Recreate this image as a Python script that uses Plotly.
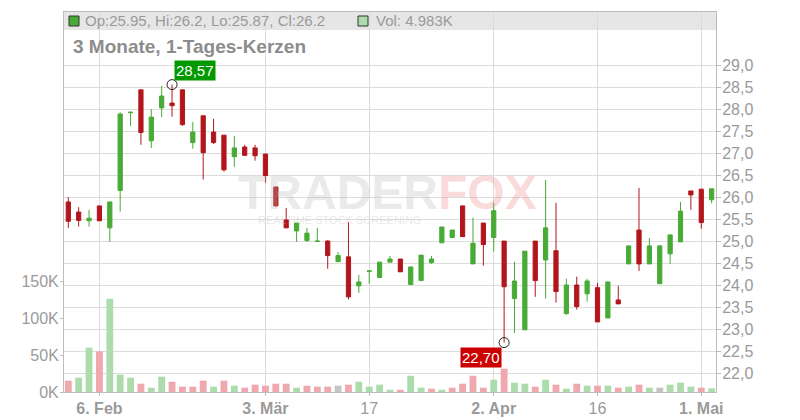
import plotly.graph_objects as go

# ---------------- data ----------------
DATES = [
    "2025-02-03", "2025-02-04", "2025-02-05", "2025-02-06", "2025-02-07",
    "2025-02-10", "2025-02-11", "2025-02-12", "2025-02-13", "2025-02-14",
    "2025-02-18", "2025-02-19", "2025-02-20", "2025-02-21", "2025-02-24",
    "2025-02-25", "2025-02-26", "2025-02-27", "2025-02-28",
    "2025-03-03", "2025-03-04", "2025-03-05", "2025-03-06", "2025-03-07",
    "2025-03-10", "2025-03-11", "2025-03-12", "2025-03-13", "2025-03-14",
    "2025-03-17", "2025-03-18", "2025-03-19", "2025-03-20", "2025-03-21",
    "2025-03-24", "2025-03-25", "2025-03-26", "2025-03-27", "2025-03-28",
    "2025-03-31",
    "2025-04-01", "2025-04-02", "2025-04-03", "2025-04-04", "2025-04-07",
    "2025-04-08", "2025-04-09", "2025-04-10", "2025-04-11", "2025-04-14",
    "2025-04-15", "2025-04-16", "2025-04-17", "2025-04-21", "2025-04-22",
    "2025-04-23", "2025-04-24", "2025-04-25", "2025-04-28", "2025-04-29",
    "2025-04-30",
    "2025-05-01", "2025-05-02",
]

OPEN = [25.90, 25.67, 25.47, 25.81, 25.31, 26.16, 27.93, 28.45, 27.29, 28.04,
        28.15, 28.45, 27.25, 27.86, 27.49, 27.42, 26.93, 27.15, 27.13, 26.99,
        26.24, 25.49, 25.24, 25.02, 25.00, 25.01, 24.54, 24.65, 23.99, 24.32,
        24.18, 24.53, 24.60, 24.02, 24.11, 24.52, 24.97, 25.09, 25.81, 24.49,
        25.42, 25.09, 25.01, 23.70, 22.99, 25.01, 24.58, 24.79, 23.36, 24.01,
        23.81, 23.95, 23.26, 23.67, 24.49, 25.26, 24.49, 24.04, 24.72, 24.99,
        26.15, 26.19, 25.95]
HIGH = [26.01, 25.78, 25.72, 25.81, 25.90, 27.94, 27.95, 28.45, 28.01, 28.54,
        28.57, 28.46, 27.72, 27.86, 27.79, 27.42, 27.40, 27.20, 27.20, 26.99,
        26.24, 25.76, 25.42, 25.31, 25.31, 25.03, 24.76, 25.44, 24.24, 24.33,
        24.53, 24.67, 24.60, 24.42, 24.69, 24.67, 25.33, 25.26, 25.81, 25.54,
        25.42, 25.88, 25.01, 24.54, 24.78, 25.01, 26.40, 25.88, 24.15, 24.20,
        24.15, 24.06, 24.08, 23.99, 24.90, 26.22, 25.08, 24.92, 25.15, 25.90,
        26.15, 26.20, 26.20]
LOW = [25.31, 25.34, 25.34, 25.47, 24.99, 25.68, 27.63, 27.20, 27.13, 27.83,
       27.84, 27.63, 27.11, 26.41, 27.22, 26.59, 26.70, 26.95, 26.84, 26.34,
       25.79, 25.31, 24.99, 24.99, 25.00, 24.38, 24.54, 23.68, 23.83, 24.04,
       24.18, 24.53, 24.31, 24.02, 24.11, 24.49, 24.97, 25.09, 25.11, 24.49,
       24.45, 24.77, 22.70, 22.92, 22.99, 23.74, 23.70, 23.61, 23.33, 23.45,
       23.63, 23.17, 23.26, 23.58, 24.49, 24.33, 24.49, 24.04, 24.49, 24.99,
       25.72, 25.29, 25.87]
CLOSE = [25.46, 25.48, 25.53, 25.47, 25.90, 27.90, 27.94, 27.48, 27.83, 28.31,
         28.09, 27.66, 27.49, 27.02, 27.25, 26.63, 27.13, 26.96, 26.95, 26.50,
         25.81, 25.31, 25.42, 25.19, 25.01, 24.68, 24.68, 23.74, 24.08, 24.33,
         24.53, 24.60, 24.31, 24.42, 24.69, 24.60, 25.33, 25.26, 25.11, 24.96,
         24.93, 25.70, 23.97, 24.10, 24.78, 24.11, 25.31, 23.86, 24.01, 23.52,
         24.10, 23.17, 24.08, 23.58, 24.90, 24.49, 24.90, 24.90, 25.15, 25.69,
         26.06, 25.43, 26.20]
VOLUME = [15300, 19300, 59900, 54900, 126000, 23400, 19300, 11200, 5800, 20700,
          13900, 7200, 7200, 15300, 7200, 15300, 8500, 5800, 9900, 8500,
          11200, 11200, 5800, 8500, 7200, 7200, 8500, 9900, 13900, 7200,
          9900, 3100, 3000, 22000, 5800, 4500, 3100, 5800, 11200, 22000,
          5800, 16600, 31500, 12600, 11200, 7200, 16600, 9900, 4500, 11200,
          8500, 8500, 8500, 5800, 7200, 9900, 5800, 5800, 9900, 12600,
          7200, 5800, 4983]
PREV_CLOSE = 25.60

TICK_DATES = ["2025-02-06", "2025-03-03", "2025-03-17", "2025-04-02", "2025-04-16", "2025-05-01"]
TICK_LABELS = ["<b>6. Feb</b>", "<b>3. Mär</b>", "17", "<b>2. Apr</b>", "16", "<b>1. Mai</b>"]
PRICE_TICKS = [22.0, 22.5, 23.0, 23.5, 24.0, 24.5, 25.0, 25.5, 26.0, 26.5, 27.0, 27.5, 28.0, 28.5, 29.0]
VOL_TICKS = [0, 50000, 100000, 150000]
VOL_TICK_LABELS = ["0K", "50K", "100K", "150K"]

TITLE = "3 Monate, 1-Tages-Kerzen"

# ---------------- style ----------------
GREEN = "#47ab35"
RED = "#b2161c"
VOL_UP = "#acdcab"
VOL_DOWN = "#eea8ae"
VOL_FLAT = "#c4c4c4"
GRID = "#dcdcdc"
AXIS = "#bcbcbc"
TXT = "#9a9a9a"
FONT = "Liberation Sans, Arial, sans-serif"

W, H = 800, 420
OFF = 8                      # default page body margin
PL, PR, PT, PB = 64, 716, 12, 392   # plot area in page pixels
ML, MT = PL - OFF, PT - OFF
MR, MB = W - (PR - OFF), H - (PB - OFF)


def px(x):
    return (x - PL) / (PR - PL)


def py(y):
    return (PB - y) / (PB - PT)


vol_colors = []
prev = PREV_CLOSE
for c in CLOSE:
    vol_colors.append(VOL_UP if c > prev else (VOL_DOWN if c < prev else VOL_FLAT))
    prev = c

ih = max(range(len(HIGH)), key=lambda i: HIGH[i])
il = min(range(len(LOW)), key=lambda i: LOW[i])

fig = go.Figure()

fig.add_trace(go.Bar(
    x=DATES, y=VOLUME, marker=dict(color=vol_colors, line=dict(width=0)),
    width=0.66, yaxis="y", hoverinfo="skip",
))

fig.add_trace(go.Candlestick(
    x=DATES, open=OPEN, high=HIGH, low=LOW, close=CLOSE, yaxis="y2",
    increasing=dict(fillcolor=GREEN, line=dict(color=GREEN, width=1)),
    decreasing=dict(fillcolor=RED, line=dict(color=RED, width=1)),
    whiskerwidth=0,
))

fig.add_trace(go.Scatter(
    x=[DATES[ih], DATES[il]], y=[HIGH[ih], LOW[il]], yaxis="y2", mode="markers",
    marker=dict(symbol="circle-open", size=10, color="#222222", line=dict(width=1)),
    hoverinfo="skip",
))

shapes = [
    dict(type="rect", xref="paper", yref="paper", x0=0, x1=1, y0=py(30), y1=1,
         fillcolor="#e6e6e6", line=dict(width=0), layer="below"),
    dict(type="rect", xref="paper", yref="paper", x0=px(69), x1=px(79), y0=py(26), y1=py(16),
         fillcolor=GREEN, line=dict(color="#333333", width=1), layer="above"),
    dict(type="rect", xref="paper", yref="paper", x0=px(358), x1=px(368), y0=py(26), y1=py(16),
         fillcolor=VOL_UP, line=dict(color="#333333", width=1), layer="above"),
]

annotations = [
    dict(xref="paper", yref="paper", x=px(83), y=py(21), xanchor="left", yanchor="middle",
         showarrow=False,
         text=f"Op:{OPEN[-1]:g}, Hi:{HIGH[-1]:g}, Lo:{LOW[-1]:g}, Cl:{CLOSE[-1]:g}",
         font=dict(family=FONT, size=15, color=TXT)),
    dict(xref="paper", yref="paper", x=px(374), y=py(21), xanchor="left", yanchor="middle",
         showarrow=False, text=f"Vol: {VOLUME[-1] / 1000:.3f}K",
         font=dict(family=FONT, size=15, color=TXT)),
    dict(xref="paper", yref="paper", x=px(71), y=py(47), xanchor="left", yanchor="middle",
         showarrow=False, text=f"<b>{TITLE}</b>",
         font=dict(family=FONT, size=19, color="#8c8c8c")),
    # watermark
    dict(xref="paper", yref="paper", x=px(387), y=py(192), xanchor="center", yanchor="middle",
         showarrow=False,
         text="<b><span style='color:rgba(190,190,190,0.32)'>TRADER</span>"
              "<span style='color:rgba(240,130,130,0.30)'>FOX</span></b>",
         font=dict(family=FONT, size=48)),
    dict(xref="paper", yref="paper", x=px(339), y=py(220), xanchor="center", yanchor="middle",
         showarrow=False, text="REALTIME STOCK SCREENING",
         font=dict(family=FONT, size=11, color="rgba(190,190,190,0.35)")),
    # high / low labels
    dict(xref="x", yref="y2", x=DATES[ih], y=HIGH[ih], xanchor="left", yanchor="bottom",
         xshift=2, yshift=4, showarrow=False, bgcolor="#009900", borderpad=1,
         text=f"{HIGH[ih]:.2f}".replace(".", ","),
         font=dict(family=FONT, size=15, color="#ffffff")),
    dict(xref="x", yref="y2", x=DATES[il], y=LOW[il], xanchor="right", yanchor="top",
         xshift=-2, yshift=-4, showarrow=False, bgcolor="#cc0000", borderpad=1,
         text=f"{LOW[il]:.2f}".replace(".", ","),
         font=dict(family=FONT, size=15, color="#ffffff")),
]

n = len(DATES)
fig.update_layout(
    width=W, height=H,
    margin=dict(l=ML, r=MR, t=MT, b=MB, pad=0),
    paper_bgcolor="white", plot_bgcolor="white",
    showlegend=False,
    boxgap=0.42,
    shapes=shapes,
    annotations=annotations,
    font=dict(family=FONT, color=TXT),
    xaxis=dict(
        type="category", range=[-0.414, (n - 1) + 0.42],
        rangeslider=dict(visible=False),
        tickmode="array", tickvals=TICK_DATES, ticktext=TICK_LABELS,
        tickfont=dict(family=FONT, size=16, color=TXT),
        showgrid=True, gridcolor=GRID, gridwidth=1,
        showline=True, linecolor=AXIS, linewidth=1, mirror=True,
        ticks="outside", ticklen=3, tickcolor=AXIS, ticklabelstandoff=-1,
        zeroline=False, fixedrange=True,
    ),
    yaxis=dict(
        side="left", range=[0, 513500],
        tickmode="array", tickvals=VOL_TICKS, ticktext=VOL_TICK_LABELS,
        tickfont=dict(family=FONT, size=16, color=TXT),
        showgrid=False, zeroline=False,
        showline=True, linecolor=AXIS, linewidth=1,
        ticks="outside", ticklen=3, tickcolor=AXIS, ticklabelstandoff=-2,
    ),
    yaxis2=dict(
        overlaying="y", side="right", range=[21.575, 30.222],
        tickmode="array", tickvals=PRICE_TICKS,
        ticktext=[f"{v:.1f}".replace(".", ",") for v in PRICE_TICKS],
        tickfont=dict(family=FONT, size=16, color=TXT),
        showgrid=True, gridcolor=GRID, gridwidth=1, zeroline=False,
        showline=True, linecolor=AXIS, linewidth=1,
        ticks="outside", ticklen=4, tickcolor=AXIS, ticklabelstandoff=-2,
    ),
)

fig.write_html("out.html")
